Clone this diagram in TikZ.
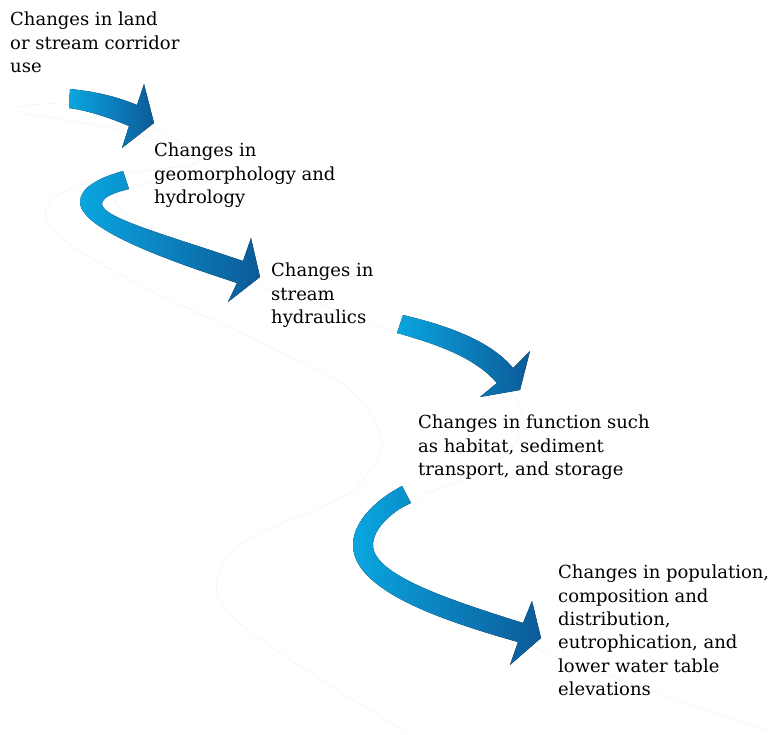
\documentclass[tikz,border=0pt]{standalone}
\usepackage{fontspec}
\setmainfont{DejaVu Serif}
\usetikzlibrary{positioning}
\definecolor{flowcyan}{HTML}{0AA6E0}
\definecolor{flownavy}{HTML}{0C5A98}
\definecolor{bankline}{HTML}{EDF3F9}
\tikzstyle{every node}=[inner sep=0pt, anchor=north west, align=left, font=\fontsize{18}{23.3}\selectfont]
\tikzstyle{flow}=[left color=flowcyan, right color=flownavy, draw=none]
\tikzstyle{bank}=[draw=bankline, line width=0.5pt]

\begin{document}
\begin{tikzpicture}[x=1pt, y=-1pt]
	\useasboundingbox (0,0) rectangle (773,735);
	% faint stream banks
	\draw[bank] plot[smooth, tension=0.6] coordinates {(13,108) (60,104) (130,118) (185,145) (198,163) (150,170) (95,180) (52,200) (48,222) (75,248) (150,290) (283,353) (350,390) (382,440) (363,480) (337,500) (247,540) (217,580) (230,613) (280,653) (407,733)};
	\draw[bank] plot[smooth, tension=0.6] coordinates {(20,113) (100,126) (170,145) (195,162) (160,178) (118,195) (125,212) (180,245) (245,282) (320,305) (400,333) (470,362) (513,395) (523,425) (505,455) (460,480) (413,500) (385,525) (380,560) (430,600) (540,650) (650,690) (767,730)};

	\node		(land)	at (10,12)		{Changes in land\\or stream corridor\\use};
	\node		(geo)	at (154,143)	{Changes in\\geomorphology and\\hydrology};
	\node		(hydr)	at (271,263)	{Changes in\\stream\\hydraulics};
	\node		(func)	at (418,415)	{Changes in function such\\as habitat, sediment\\transport, and storage};
	\node		(popu)	at (558,565)	{Changes in population,\\composition and\\distribution,\\eutrophication, and\\lower water table\\elevations};

	% flow arrows
	\fill[flow] (70,89) .. controls (100,92) and (120,98) .. (137,105) -- (144,84) -- (154,123) -- (122,148) -- (129,126) .. controls (110,118) and (90,111) .. (69,108) -- cycle;
	\fill[flow] (123,171) .. controls (98,178) and (80,188) .. (80,202) .. controls (80,228) and (160,258) .. (237,283) -- (228,302) -- (260,277) -- (251,238) -- (243,261) .. controls (170,236) and (102,218) .. (102,204) .. controls (102,198) and (112,193) .. (129,189) -- cycle;
	\fill[flow] (403,315) .. controls (445,325) and (490,340) .. (513,368) -- (530,351) -- (520,390) -- (480,397) -- (497,383) .. controls (475,358) and (440,345) .. (397,333) -- cycle;
	\fill[flow] (402,486) .. controls (370,503) and (353,525) .. (353,545) .. controls (353,590) and (440,620) .. (518,642) -- (510,665) -- (541,638) -- (532,601) -- (523,623) .. controls (450,600) and (373,575) .. (373,545) .. controls (373,530) and (390,512) .. (411,503) -- cycle;
\end{tikzpicture}
\end{document}
